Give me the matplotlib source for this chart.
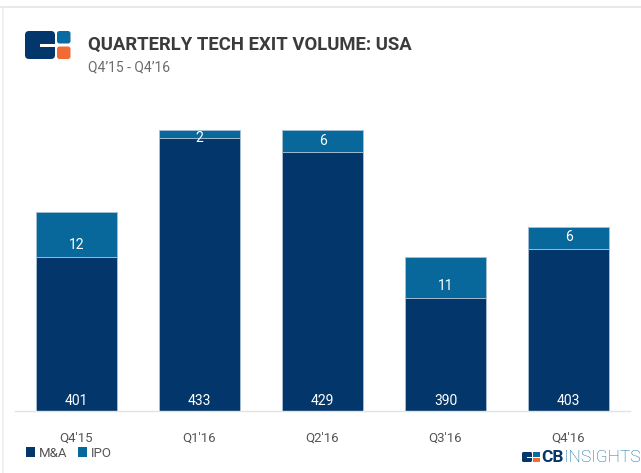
import matplotlib
matplotlib.use("Agg")
import matplotlib.pyplot as plt
from matplotlib.patches import Rectangle, FancyBboxPatch
from matplotlib.transforms import IdentityTransform

# data
quarters = ["Q4'15", "Q1'16", "Q2'16", "Q3'16", "Q4'16"]
mna = [401, 433, 429, 390, 403]
ipo = [12, 2, 6, 11, 6]

NAVY = "#03366a"
BLUE = "#08679b"
ORANGE = "#f26b35"
W, H = 641, 473

plt.rcParams["font.family"] = ["Roboto", "DejaVu Sans"]

fig = plt.figure(figsize=(W / 100, H / 100), dpi=100)
fig.patch.set_facecolor("white")


def px(x, y):
    # pixel position (from top-left) -> figure fraction
    return x / W, 1 - y / H


# axes: baseline at y=411px, value axis is truncated (starts near 359.5)
ax = fig.add_axes([15 / W, (H - 411) / H, 615 / W, 301 / H])
ymin = 359.5
ax.set_ylim(ymin, ymin + 301 / 3.72)
ax.set_xlim(-0.5, 4.5)

x = range(len(quarters))
ax.bar(x, mna, width=0.66, color=NAVY, edgecolor="#a9c0d4", linewidth=0.6, zorder=2)
ax.bar(x, ipo, bottom=mna, width=0.66, color=BLUE, edgecolor="#a9c0d4", linewidth=0.6, zorder=2)

for i in x:
    ax.annotate(str(mna[i]), xy=(i, ymin), xytext=(0, 7.5), textcoords="offset points",
                ha="center", va="center", color="white", fontsize=10)
    seg_px = ipo[i] * 3.72
    off = 8.6 if seg_px > 15 else -0.5
    ax.annotate(str(ipo[i]), xy=(i, mna[i]), xytext=(0, off), textcoords="offset points",
                ha="center", va="center", color="white", fontsize=10, zorder=3)

ax.set_xticks(list(x))
ax.set_xticklabels(quarters, color="#555555", fontsize=9.5)
ax.tick_params(axis="x", length=0, pad=15)
ax.set_yticks([])
for s in ["top", "left", "right"]:
    ax.spines[s].set_visible(False)
ax.spines["bottom"].set_color("#e3e3e3")
ax.spines["bottom"].set_linewidth(1)
ax.set_facecolor("none")

# page borders
fig.add_artist(plt.Line2D([0, 1], [1 - 7 / H, 1 - 7 / H], color="#e4e4e4", lw=1.2))
fig.add_artist(plt.Line2D([3 / W, 3 / W], [0, 1 - 7 / H], color="#e8eef4", lw=1.2))

# top-left logo (display pixels)
ident = IdentityTransform()
fig.add_artist(FancyBboxPatch((25, H - 59), 30, 28, boxstyle="round,pad=0,rounding_size=4",
                              fc=NAVY, ec="none", transform=ident))
fig.add_artist(Rectangle((40, H - 47), 17, 3, fc="white", ec="none", transform=ident))
fig.add_artist(FancyBboxPatch((57, H - 43.5), 13.5, 12.5, boxstyle="round,pad=0,rounding_size=2.5",
                              fc="#0a6aa1", ec="none", transform=ident))
fig.add_artist(FancyBboxPatch((57, H - 59), 13.5, 12.5, boxstyle="round,pad=0,rounding_size=2.5",
                              fc=ORANGE, ec="none", transform=ident))

fig.text(*px(88, 50), "QUARTERLY TECH EXIT VOLUME: USA", ha="left", va="baseline",
         fontsize=13.3, fontweight="bold", color="#3b3b3b")
fig.text(*px(88, 71), "Q4\u201915 - Q4\u201916", ha="left", va="baseline",
         fontsize=10, color="#6b6b6b")

# legend
fig.legend(handles=[Rectangle((0, 0), 1, 1, fc=NAVY), Rectangle((0, 0), 1, 1, fc=BLUE)],
           labels=["M&A", "IPO"], loc="center left", bbox_to_anchor=px(14, 453),
           ncol=2, frameon=False, fontsize=9.5, handlelength=0.7, handleheight=0.7,
           handletextpad=0.3, columnspacing=0.8, labelcolor="#555555")

# bottom-right CB Insights mark
fig.add_artist(FancyBboxPatch((522, H - 462), 10, 10, boxstyle="round,pad=0,rounding_size=1.5",
                              fc=NAVY, ec="none", transform=ident))
fig.add_artist(Rectangle((527, H - 458), 6, 1.3, fc="white", ec="none", transform=ident))
fig.add_artist(Rectangle((533, H - 456.5), 7, 4.5, fc="#0a6aa1", ec="none", transform=ident))
fig.add_artist(Rectangle((533, H - 462), 7, 4.5, fc=ORANGE, ec="none", transform=ident))
cb = fig.text(*px(541, 462), "CB", ha="left", va="baseline", fontsize=12.5,
              fontweight="bold", color=NAVY)
fig.add_artist(plt.Annotation("INSIGHTS", xy=(1, 0), xycoords=cb, xytext=(0.3, 0),
                              textcoords="offset points", ha="left", va="bottom",
                              fontsize=12.5, fontweight="light", color="#0a6aa1"))

fig.savefig("out.png", dpi=100, facecolor="white")
